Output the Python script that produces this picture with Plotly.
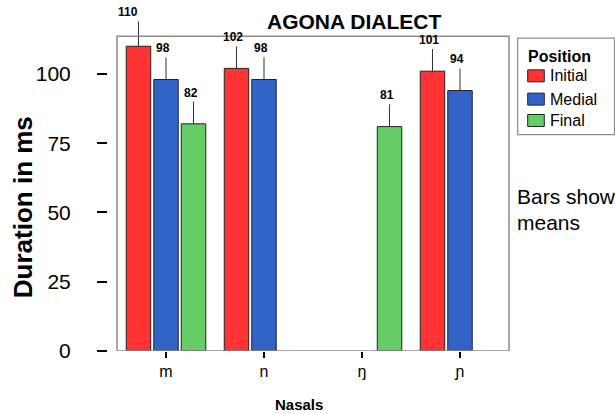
import plotly.graph_objects as go

# Mean nasal durations (ms) by position in the word, Agona dialect
nasals = ["m", "n", "ŋ", "ɲ"]
positions = ["Initial", "Medial", "Final"]
initial_ms = [110, 102, None, 101]
medial_ms = [98, 98, None, 94]
final_ms = [82, None, 81, None]
# upper whisker lengths (ms)
initial_err = [9, 8, 0, 8]
medial_err = [8, 8, 0, 8]
final_err = [8, 0, 8, 0]
y_ticks = [0, 25, 50, 75, 100]

colors = ["#ff3334", "#3264c8", "#66cc66"]
series = [initial_ms, medial_ms, final_ms]
errors = [initial_err, medial_err, final_err]

W, H = 615, 414
PX_PER_MS = 2.774           # vertical scale of the value axis
Y_TOP = 122                 # axis range leaves room for whiskers and labels
FRAME_TOP = 113.6           # the drawn frame ends here
ML, MR, MB = 107, 106, 63
MT = H - MB - Y_TOP * PX_PER_MS
PW, PH = W - ML - MR, H - MT - MB
BOX_LEFT = 117  # left edge of the framed plotting region (px)

BARGAP = 0.158
BARGROUPGAP = 0.11
FONT = "Liberation Sans, Arial, Helvetica, sans-serif"


def px_x(px):
    return (px - ML) / PW


def px_y(py):
    return (H - MB - py) / PH


fig = go.Figure()
for name, vals, errs, col in zip(positions, series, errors, colors):
    fig.add_trace(go.Bar(
        x=nasals, y=vals, name=name,
        marker=dict(color=col, line=dict(color="#222222", width=1)),
        error_y=dict(type="data", symmetric=False, array=errs,
                     arrayminus=[0] * len(errs), width=0,
                     color="#333333", thickness=1),
        cliponaxis=False, showlegend=False,
    ))

# value labels above each whisker
slot = (1 - BARGAP) / len(series)
annotations = []
for k, (vals, errs) in enumerate(zip(series, errors)):
    off = (k - (len(series) - 1) / 2) * slot
    for i, (v, e) in enumerate(zip(vals, errs)):
        if v is None:
            continue
        annotations.append(dict(
            x=i + off, y=v + e, xref="x", yref="y", text=f"<b>{v}</b>",
            showarrow=False, yanchor="bottom", xanchor="center",
            xshift=-10 if v >= 110 else -3, yshift=0,
            font=dict(family=FONT, size=12, color="#000000")))

# chart title and axis titles
annotations += [
    dict(x=px_x(354), y=px_y(21), xref="paper", yref="paper",
         text="<b>AGONA DIALECT</b>", showarrow=False,
         xanchor="center", yanchor="middle",
         font=dict(family=FONT, size=21, color="#000")),
    dict(x=px_x(23), y=px_y(207), xref="paper", yref="paper",
         text="<b>Duration in ms</b>", showarrow=False, textangle=-90,
         xanchor="center", yanchor="middle",
         font=dict(family=FONT, size=26, color="#000")),
    dict(x=px_x(299), y=px_y(405), xref="paper", yref="paper",
         text="<b>Nasals</b>", showarrow=False,
         xanchor="center", yanchor="middle",
         font=dict(family=FONT, size=15, color="#000")),
    dict(x=px_x(515), y=px_y(196), xref="paper", yref="paper",
         text="Bars show", showarrow=False, xanchor="left", yanchor="middle",
         font=dict(family=FONT, size=21, color="#000")),
    dict(x=px_x(515), y=px_y(222), xref="paper", yref="paper",
         text="means", showarrow=False, xanchor="left", yanchor="middle",
         font=dict(family=FONT, size=21, color="#000")),
]

# plot frame and legend panel
shapes = [
    dict(type="rect", xref="paper", yref="y",
         x0=px_x(BOX_LEFT), x1=1, y0=0, y1=FRAME_TOP,
         line=dict(color="#8c8c8c", width=1.5), layer="above"),
    dict(type="rect", xref="paper", yref="paper",
         x0=px_x(517.7), x1=px_x(614.5), y0=px_y(134.3), y1=px_y(37.7),
         line=dict(color="#8c8c8c", width=1.2)),
]
annotations.append(dict(
    x=px_x(526), y=px_y(56), xref="paper", yref="paper",
    text="<b>Position</b>", showarrow=False, xanchor="left", yanchor="middle",
    font=dict(family=FONT, size=16, color="#000")))
item_y = [75.5, 98.8, 120.2]
for name, col, cy in zip(positions, colors, item_y):
    shapes.append(dict(
        type="rect", xref="paper", yref="paper",
        x0=px_x(527.7), x1=px_x(544.3), y0=px_y(cy + 6), y1=px_y(cy - 6),
        fillcolor=col, line=dict(color="#222222", width=1)))
    annotations.append(dict(
        x=px_x(548), y=px_y(cy), xref="paper", yref="paper",
        text=name, showarrow=False, xanchor="left", yanchor="middle",
        font=dict(family=FONT, size=16, color="#000")))

fig.update_layout(
    width=W, height=H,
    margin=dict(l=ML, r=MR, t=MT, b=MB, autoexpand=False),
    paper_bgcolor="white", plot_bgcolor="rgba(0,0,0,0)",
    barmode="group", bargap=BARGAP, bargroupgap=BARGROUPGAP,
    font=dict(family=FONT, color="#000"),
    xaxis=dict(
        domain=[px_x(BOX_LEFT), 1], range=[-0.5, 3.5],
        showline=False, showgrid=False, zeroline=False,
        ticks="outside", ticklen=6, tickwidth=2, tickcolor="#000",
        tickfont=dict(family=FONT, size=16, color="#000"),
    ),
    yaxis=dict(
        anchor="free", position=0, range=[0, Y_TOP],
        tickvals=y_ticks, ticktext=[str(t) for t in y_ticks],
        showline=False, showgrid=False, zeroline=False,
        ticks="outside", ticklen=10, tickwidth=2, tickcolor="#000",
        ticklabelstandoff=22,
        tickfont=dict(family=FONT, size=21, color="#000"),
    ),
    annotations=annotations,
    shapes=shapes,
)

fig.write_html("out.html")
